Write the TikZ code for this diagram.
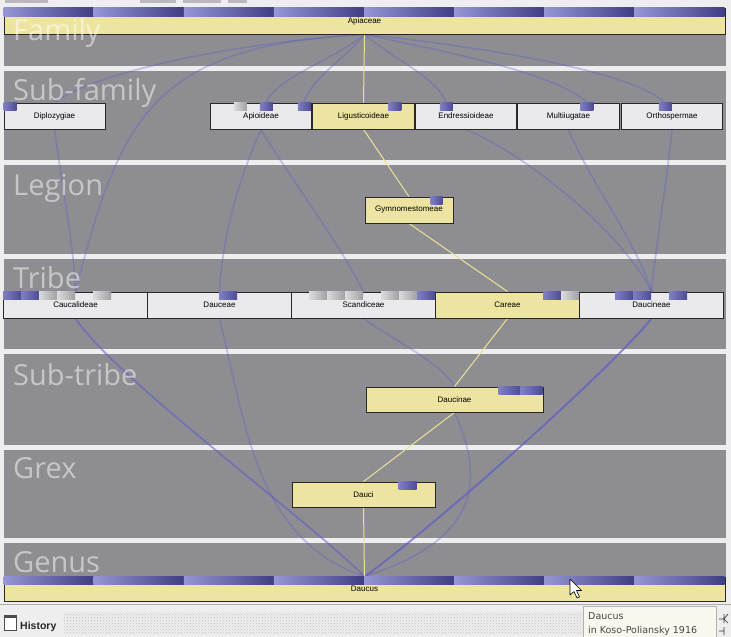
\documentclass[tikz,border=0pt]{standalone}
\usepackage{fontspec}
\setmainfont{Liberation Sans}
\newfontfamily\rankfont{Open Sans}
\newfontfamily\tipfont{DejaVu Sans}
\usetikzlibrary{patterns}

\definecolor{pagebg}{RGB}{238,238,238}
\definecolor{band}{RGB}{142,142,146}
\definecolor{cellfill}{RGB}{234,234,236}
\definecolor{selfill}{RGB}{238,228,162}
\definecolor{boxline}{RGB}{40,40,40}
\definecolor{edgeblue}{RGB}{92,92,205}
\definecolor{edgegold}{RGB}{236,226,150}
\definecolor{mkA}{RGB}{128,126,196}
\definecolor{mkB}{RGB}{78,76,150}
\definecolor{mgA}{RGB}{220,220,220}
\definecolor{mgB}{RGB}{160,160,162}
\definecolor{stripA}{RGB}{150,150,212}
\definecolor{stripB}{RGB}{62,62,132}
\definecolor{dotgray}{RGB}{190,190,190}
\definecolor{tipfill}{RGB}{248,248,238}
\definecolor{tiptext}{RGB}{70,70,70}

\pgfdeclarelayer{bands}
\pgfdeclarelayer{links}
\pgfdeclarelayer{front}
\pgfsetlayers{bands,links,main,front}

% marker slot on top edge of a taxon box: node, x offset, width, style
\newcommand\slotmark[4]{\path[#4] ([xshift=#2pt]#1.north west) rectangle ++(#3,7.5);}

\begin{document}
\begin{tikzpicture}[x=1pt,y=-1pt,
  cell/.style={draw=boxline, line width=0.9pt, fill=cellfill, inner sep=0pt,
    minimum height=26pt, font=\fontsize{8}{9}\selectfont, text=black},
  sel/.style={cell, fill=selfill},
  rank/.style={anchor=base west, inner sep=0pt, text=white, text opacity=0.5,
    font=\rankfont\fontsize{29}{30}\selectfont},
  pmark/.style={left color=mkA, right color=mkB},
  gmark/.style={left color=mgA, right color=mgB},
  strip/.style={left color=stripA, right color=stripB},
  link/.style={draw=edgeblue, draw opacity=0.32, line width=1.7pt},
  hot/.style={draw=edgegold, line width=1pt},
  bandrow/.style={fill=band}]

\useasboundingbox (0,0) rectangle (731,637);

% ---------- taxon boxes ----------
\node[sel, minimum width=721pt, minimum height=26pt] (apiaceae) at (364.5,21) {Apiaceae};
\node[sel, minimum width=721pt, minimum height=24pt] (daucus) at (364.5,589) {Daucus};

\node[cell, minimum width=101pt]   (dip)  at (54.5,116) {Diplozygiae};
\node[cell, minimum width=101.5pt] (apio) at (261,116)  {Apioideae};
\node[sel,  minimum width=101.5pt] (lig)  at (363.5,116) {Ligusticoideae};
\node[cell, minimum width=101.5pt] (endr) at (466,116)  {Endressioideae};
\node[cell, minimum width=101.5pt] (mult) at (568.5,116) {Multiiugatae};
\node[cell, minimum width=101.5pt] (orth) at (672,116)  {Orthospermae};

\node[sel, minimum width=88pt] (gym) at (409,210) {Gymnomestomeae};

\node[cell, minimum width=144pt] (cauc)      at (75.5,305)  {Caucalideae};
\node[cell, minimum width=144pt] (dauceae)   at (219.5,305) {Dauceae};
\node[cell, minimum width=144pt] (scan)      at (363.5,305) {Scandiceae};
\node[sel,  minimum width=144pt] (care)      at (507.5,305) {Careae};
\node[cell, minimum width=144pt] (daucineae) at (651.5,305) {Daucineae};

\node[sel, minimum width=177pt, minimum height=25pt] (dcn) at (454.5,399.5) {Daucinae};
\node[sel, minimum width=143pt, minimum height=25pt] (dci) at (363.5,494.5) {Dauci};

% ---------- classification strips and slot markers ----------
\foreach \i in {0,...,7} {
  \path[strip] ([xshift=\i*90.125pt]apiaceae.north west) rectangle ++(90.125,8.5);
  \path[strip] ([xshift=\i*90.125pt]daucus.north west) rectangle ++(90.125,8);
}
\slotmark{dip}{0}{13}{pmark}
\slotmark{apio}{24}{13}{gmark}
\slotmark{apio}{50}{13}{pmark}
\slotmark{apio}{88}{13}{pmark}
\slotmark{lig}{76}{13}{pmark}
\slotmark{endr}{25}{13}{pmark}
\slotmark{mult}{63}{13}{pmark}
\slotmark{orth}{38}{13}{pmark}
\slotmark{gym}{66}{12}{pmark}
\slotmark{cauc}{0}{18}{pmark}
\slotmark{cauc}{18}{18}{pmark}
\slotmark{cauc}{36}{18}{gmark}
\slotmark{cauc}{54}{18}{gmark}
\slotmark{cauc}{90}{18}{gmark}
\slotmark{dauceae}{72}{18}{pmark}
\slotmark{scan}{18}{18}{gmark}
\slotmark{scan}{36}{18}{gmark}
\slotmark{scan}{54}{18}{gmark}
\slotmark{scan}{90}{18}{gmark}
\slotmark{scan}{108}{18}{gmark}
\slotmark{scan}{126}{18}{pmark}
\slotmark{care}{108}{18}{pmark}
\slotmark{care}{126}{18}{gmark}
\slotmark{daucineae}{36}{18}{pmark}
\slotmark{daucineae}{54}{18}{pmark}
\slotmark{daucineae}{90}{18}{pmark}
\slotmark{dcn}{133}{22}{pmark}
\slotmark{dcn}{155}{22}{pmark}
\slotmark{dci}{107}{18}{pmark}

% ---------- page and rank bands ----------
\begin{pgfonlayer}{bands}
  \fill[pagebg] (0,0) rectangle (731,637);
  \fill[bandrow] (4,8)   rectangle (726,66);
  \fill[bandrow] (4,71)  rectangle (726,160);
  \fill[bandrow] (4,165) rectangle (726,254);
  \fill[bandrow] (4,259) rectangle (726,349);
  \fill[bandrow] (4,354) rectangle (726,445);
  \fill[bandrow] (4,450) rectangle (726,538);
  \fill[bandrow] (4,543) rectangle (726,601);
\end{pgfonlayer}

% ---------- classification paths ----------
\begin{pgfonlayer}{links}
  \coordinate (endr-in)  at ([xshift=31.5pt]endr.north west);
  \coordinate (orth-in)  at ([xshift=44pt]orth.north west);
  \coordinate (mult-in)  at ([xshift=69.5pt]mult.north west);
  \coordinate (apio-in4) at ([xshift=56.5pt]apio.north west);
  \coordinate (apio-in7) at ([xshift=94pt]apio.north west);

  % via Diplozygiae
  \draw[link] (apiaceae.south) .. controls +(-130,8) and +(40,-30) .. (dip.north);
  \draw[link] (dip.south) .. controls +(8,60) and +(-2,-50) .. (cauc.north);
  \draw[link] (cauc.south) .. controls +(40,60) and +(-60,-60) .. (daucus.north);
  % straight to Caucalideae
  \draw[link] (apiaceae.south) .. controls +(-214.5,11) and +(44.5,-172) .. (cauc.north);
  \draw[link] (cauc.south) .. controls +(40,60) and +(-60,-60) .. (daucus.north);
  % via Endressioideae
  \draw[link] (apiaceae.south) .. controls +(30,25) and +(-10,-25) .. (endr-in);
  \draw[link] (endr.south) .. controls +(60,25) and +(-30,-60) .. (daucineae.north);
  \draw[link] (daucineae.south) .. controls +(-40,50) and +(70,-50) .. (daucus.north);
  % via Orthospermae
  \draw[link] (apiaceae.south) .. controls +(105.5,11) and +(-35,-33) .. (orth-in);
  \draw[link] (orth.south) .. controls +(-5,50) and +(5,-50) .. (daucineae.north);
  \draw[link] (daucineae.south) .. controls +(-40,50) and +(70,-50) .. (daucus.north);
  % via Apioideae and Dauceae
  \draw[link] (apiaceae.south) .. controls +(-30,25) and +(10,-25) .. (apio-in4);
  \draw[link] (apio.south) .. controls +(-20,45) and +(3,-60) .. (dauceae.north);
  \draw[link] (dauceae.south) .. controls +(25.5,102) and +(-109.5,-37) .. (daucus.north);
  % via Multiiugatae
  \draw[link] (apiaceae.south) .. controls +(70,15) and +(-30,-30) .. (mult-in);
  \draw[link] (mult.south) .. controls +(20,50) and +(-15,-50) .. (daucineae.north);
  \draw[link] (daucineae.south) .. controls +(-40,50) and +(70,-50) .. (daucus.north);
  % via Apioideae, Scandiceae and Daucinae
  \draw[link] (apiaceae.south) .. controls +(-20,25) and +(8,-25) .. (apio-in7);
  \draw[link] (apio.south) .. controls +(30,50) and +(-25,-50) .. (scan.north);
  \draw[link] (scan.south) .. controls +(35,25) and +(-15,-25) .. (dcn.north);
  \draw[link] (dcn.south) .. controls +(30.5,68) and +(115.5,-37) .. (daucus.north);
  % selected path
  \draw[hot] (apiaceae.south) -- (lig.north);
  \draw[hot] (lig.south) -- (gym.north);
  \draw[hot] (gym.south) -- (care.north);
  \draw[hot] (care.south) -- (dcn.north);
  \draw[hot] (dcn.south) -- (dci.north);
  \draw[hot] (dci.south) -- (daucus.north);
\end{pgfonlayer}

% ---------- rank labels ----------
\begin{pgfonlayer}{front}
  \node[rank] (r-family)    at (13,40)  {Family};
  \node[rank] (r-subfamily) at (13,100) {Sub-family};
  \node[rank] (r-legion)    at (13,195) {Legion};
  \node[rank] (r-tribe)     at (13,288) {Tribe};
  \node[rank] (r-subtribe)  at (13,385) {Sub-tribe};
  \node[rank] (r-grex)      at (13,478) {Grex};
  \node[rank] (r-genus)     at (13,572) {Genus};
\end{pgfonlayer}

% ---------- window edge details ----------
\fill[gray!55] (5,0) rectangle (48,3);
\fill[gray!55] (140,0) rectangle (176,3);
\fill[gray!55] (183,0) rectangle (221,3);
\fill[gray!55] (228,0) rectangle (247,3);

% ---------- history bar ----------
\draw[gray!65, line width=0.8pt] (0,604.5) -- (731,604.5);
\path[pattern=crosshatch dots, pattern color=dotgray] (64,612) rectangle (583,634);
\draw[gray!60!black, fill=white, line width=0.6pt] (4,615) rectangle (16,630);
\fill[gray!60!black] (4,615) rectangle (16,618);
\node[anchor=base west, inner sep=0pt, font=\bfseries\fontsize{10.5}{12}\selectfont, text=black!85] (hist) at (20,629) {History};

% tooltip
\draw[gray!60, fill=tipfill, line width=0.6pt] (583,606) rectangle (716,645);
\node[anchor=base west, inner sep=0pt, font=\tipfont\fontsize{9.5}{10}\selectfont, text=tiptext] (tip1) at (588,619) {Daucus};
\node[anchor=base west, inner sep=0pt, font=\tipfont\fontsize{9.5}{10}\selectfont, text=tiptext] (tip2) at (588,633) {in Koso-Poliansky 1916};
\draw[black!80, line width=0.7pt] (719,619) -- (724,619) (724,614) -- (724,623) (724,619) -- (728,614) (724,619) -- (728,623)
  (719,631) -- (724,631) (724,627) -- (724,635);

% pointer
\draw[black, fill=white, line width=0.6pt, line join=round]
  (570,579) -- (570,595) -- (574,591.5) -- (577,598) -- (579.5,597) -- (576.5,590.5) -- (581.5,590.5) -- cycle;

\end{tikzpicture}
\end{document}
